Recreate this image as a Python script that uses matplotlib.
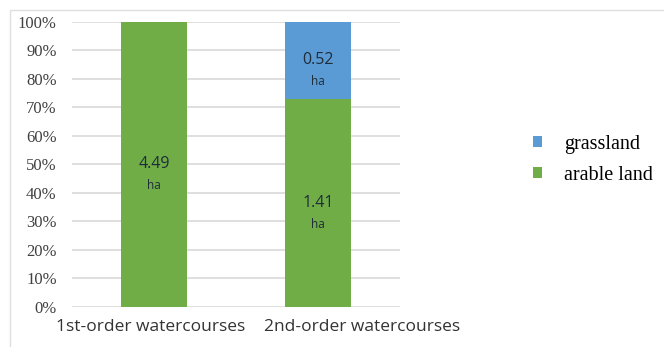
import matplotlib.pyplot as plt
import matplotlib.transforms as mtransforms
import numpy as np

categories = ["1st-order watercourses", "2nd-order watercourses"]
arable = [4.49, 1.41]
grassland = [0.0, 0.52]
series_names = ["grassland", "arable land"]
y_ticks = [0, 10, 20, 30, 40, 50, 60, 70, 80, 90, 100]

green = "#70AD47"
blue = "#5B9BD5"

arable = np.array(arable)
grassland = np.array(grassland)
total = arable + grassland
arable_pct = arable / total * 100
grass_pct = grassland / total * 100

fig = plt.figure(figsize=(6.64, 3.47), dpi=100)
ax = fig.add_axes([0.1084, 0.1153, 0.494, 0.8213])

x = np.arange(len(categories))
ax.bar(x, arable_pct, width=0.4, color=green, label=series_names[1], zorder=2)
ax.bar(x, grass_pct, width=0.4, bottom=arable_pct, color=blue, label=series_names[0], zorder=2)

# labels: number at segment middle, "ha" below
for i in range(len(categories)):
    for val, bot, h in [(arable[i], 0, arable_pct[i]), (grassland[i], arable_pct[i], grass_pct[i])]:
        if val <= 0:
            continue
        yc = bot + h / 2
        ax.annotate(f"{val:.2f}", (x[i], yc), ha="center", va="center",
                    fontsize=11.5, color="#1F2D3A", family="Open Sans")
        ax.annotate("ha", (x[i], yc), xytext=(0, -20), textcoords="offset points",
                    ha="center", va="bottom", fontsize=8.5, color="#1F2D3A", family="Open Sans")

ax.set_xlim(-0.5, 1.5)
ax.set_ylim(0, 100)
ax.set_yticks(y_ticks)
ax.set_yticklabels([f"{t}%" for t in y_ticks], family="Liberation Serif", fontsize=12, color="#404040")
ax.set_xticks(x)
ax.set_xticklabels(categories, family="Open Sans", fontsize=12.5, color="#333333")
ax.tick_params(length=0, axis="y", pad=11)
ax.tick_params(length=0, axis="x", pad=9)
ax.yaxis.grid(True, color="#D9D9D9", linewidth=1.2, zorder=0)
for s in ax.spines.values():
    s.set_visible(False)

# the category labels in the original sit off-centre
for lab, dx in zip(ax.get_xticklabels(), [-3, 44]):
    lab.set_transform(lab.get_transform() + mtransforms.ScaledTranslation(dx / 100, 0, fig.dpi_scale_trans))

h, l = ax.get_legend_handles_labels()
fig.legend(h[::-1], l[::-1], loc="center left", bbox_to_anchor=(0.775, 0.54),
           frameon=False, prop={"family": "Liberation Serif", "size": 14.5},
           handlelength=0.45, handleheight=0.45, handletextpad=1.1, labelspacing=0.6)

# light frame around the chart area
fig.patches.append(plt.Rectangle((0.015, -0.01), 1.0, 0.98, transform=fig.transFigure,
                                 fill=False, edgecolor="#E0E0E0", linewidth=1))

fig.savefig("out.png", dpi=100)
